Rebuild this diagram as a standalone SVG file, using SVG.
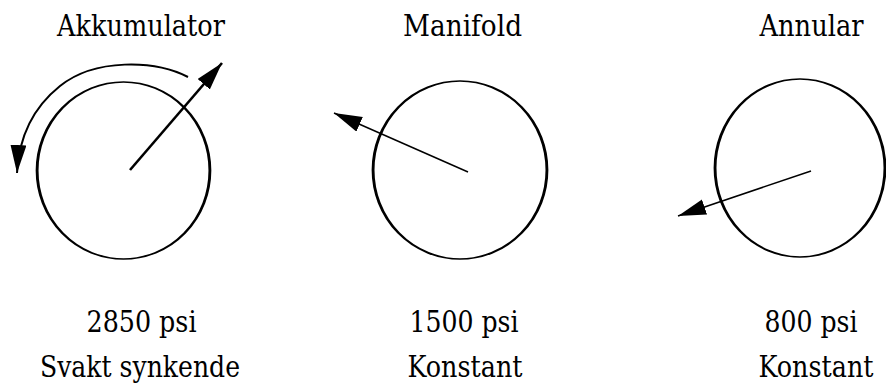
<svg xmlns="http://www.w3.org/2000/svg" width="886" height="387" viewBox="0 0 886 387">
<style>
text{font-family:"DejaVu Serif","Liberation Serif",serif;font-size:29px;fill:#000;text-anchor:middle}
.dial{fill:none;stroke:#000;stroke-width:1.6}
.ptr{fill:none;stroke:#000}
</style>
<defs>
<marker id="ah" markerUnits="userSpaceOnUse" markerWidth="32" markerHeight="18" refX="28" refY="8" orient="auto">
<path d="M0,0 L28,8 L0,16 Z" fill="#000"/>
</marker>
</defs>
<rect width="886" height="387" fill="#fff"/>
<g id="akkumulator">
<ellipse class="dial" cx="0" cy="0" rx="48" ry="88.5" transform="translate(123.5,170.5) scale(1.8,1)"/>
<text x="141" y="36" textLength="168" lengthAdjust="spacingAndGlyphs">Akkumulator</text>
<text x="141.5" y="332" textLength="110" lengthAdjust="spacingAndGlyphs">2850 psi</text>
<text x="140" y="377" textLength="200" lengthAdjust="spacingAndGlyphs">Svakt synkende</text>
</g>
<g id="manifold">
<ellipse class="dial" cx="0" cy="0" rx="48.3" ry="89" transform="translate(460,170) scale(1.8,1)"/>
<text x="462.5" y="36" textLength="119" lengthAdjust="spacingAndGlyphs">Manifold</text>
<text x="464" y="332" textLength="109" lengthAdjust="spacingAndGlyphs">1500 psi</text>
<text x="465" y="377" textLength="115" lengthAdjust="spacingAndGlyphs">Konstant</text>
</g>
<g id="annular">
<ellipse class="dial" cx="0" cy="0" rx="47.2" ry="89" transform="translate(800,168) scale(1.8,1)"/>
<text x="811.5" y="36" textLength="104" lengthAdjust="spacingAndGlyphs">Annular</text>
<text x="811" y="332" textLength="93" lengthAdjust="spacingAndGlyphs">800 psi</text>
<text x="816" y="377" textLength="115" lengthAdjust="spacingAndGlyphs">Konstant</text>
</g>
<g id="connectors">
<line class="ptr" x1="130" y1="170" x2="222" y2="63" stroke-width="2.6" marker-end="url(#ah)"/>
<path class="ptr" d="M188,77 C155,60 95,58 60,86 C35,106 19,135 17,173" stroke-width="2" marker-end="url(#ah)"/>
<line class="ptr" x1="468" y1="172" x2="334" y2="113" stroke-width="1.5" marker-end="url(#ah)"/>
<line class="ptr" x1="811" y1="171" x2="678" y2="216" stroke-width="1.5" marker-end="url(#ah)"/>
</g>
</svg>
